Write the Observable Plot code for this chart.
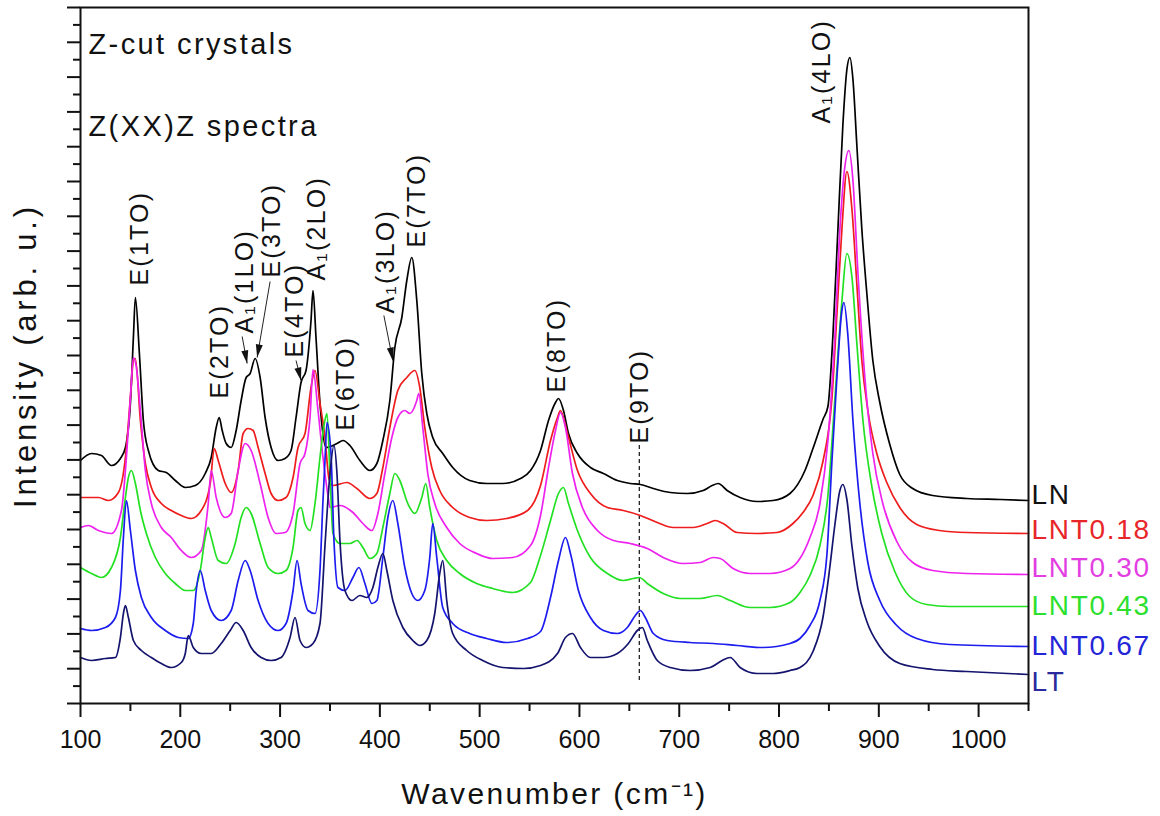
<!DOCTYPE html>
<html>
<head>
<meta charset="utf-8">
<script src="https://cdn.jsdelivr.net/npm/d3@7"></script>
<script src="https://cdn.jsdelivr.net/npm/@observablehq/plot@0.6"></script>
<style>
  body { margin: 0; background: #fff; }
  #chart { width: 1160px; height: 816px; }
</style>
</head>
<body>
<div id="chart"></div>
<script>
// Raman spectra, Z(XX)Z geometry, Z-cut LiNb(1-x)TaxO3 crystals.
// Each series: [wavenumber (cm^-1), intensity (arb. u., vertically offset)]
const LN = [[100,243],[111,250],[121,248],[131,238],[140,245],[145,256],[150,300],[153,366],[155,406],[159,350],[163,283],[168,253],[178,233],[186,231],[195,223],[205,216],[215,218],[225,230],[231,246],[236,276],[239,286],[242,273],[246,260],[251,256],[256,273],[261,303],[266,326],[270,330],[275,345],[280,326],[285,286],[291,256],[298,243],[305,245],[311,253],[316,286],[321,321],[326,333],[331,383],[333,413],[336,366],[340,300],[346,256],[357,260],[363,263],[370,258],[380,243],[390,233],[397,240],[403,263],[410,303],[415,356],[422,386],[427,423],[432,446],[437,403],[442,330],[447,290],[453,266],[463,250],[473,236],[490,223],[507,220],[523,220],[541,225],[551,233],[561,253],[569,283],[576,301],[579,305],[584,293],[589,270],[598,250],[611,236],[624,230],[638,223],[651,220],[661,219],[674,215],[691,211],[708,210],[724,213],[733,218],[739,220],[748,213],[761,206],[778,202],[794,203],[811,210],[826,233],[834,255],[844,284],[849,297],[854,368],[859,474],[864,579],[868,634],[871,646],[874,625],[878,558],[883,474],[888,410],[894,343],[901,301],[911,259],[921,229],[934,215],[954,208],[988,205],[1022,204],[1050,203]];

const LNT018 = [[100,206],[118,206],[128,203],[138,211],[145,246],[150,306],[153,343],[155,345],[160,283],[165,240],[171,216],[181,200],[191,193],[201,188],[211,185],[221,193],[230,220],[234,255],[238,243],[245,220],[251,211],[258,233],[263,270],[268,275],[273,273],[278,256],[285,230],[291,210],[298,203],[306,206],[313,226],[318,256],[325,270],[331,316],[335,333],[340,300],[345,266],[349,225],[353,218],[367,221],[377,215],[390,205],[397,210],[403,236],[410,276],[418,313],[427,326],[435,333],[440,316],[445,276],[452,236],[460,213],[473,196],[490,186],[507,183],[527,185],[548,193],[561,218],[571,263],[578,286],[581,293],[588,270],[598,233],[611,210],[628,196],[644,193],[661,188],[678,181],[694,176],[714,176],[728,180],[736,183],[744,180],[758,171],[778,170],[798,171],[814,180],[824,191],[834,208],[844,242],[853,305],[858,389],[863,474],[868,532],[873,495],[878,419],[883,343],[889,293],[898,250],[908,221],[921,196],[938,179],[961,173],[988,171],[1050,170]];

const LNT030 = [[100,176],[108,178],[118,173],[131,170],[141,193],[146,246],[150,306],[153,346],[156,336],[160,293],[165,233],[171,200],[181,176],[191,166],[201,153],[211,146],[221,153],[228,200],[231,233],[236,206],[245,186],[251,190],[258,233],[265,260],[271,253],[280,220],[288,186],[296,170],[305,171],[313,190],[320,240],[325,250],[330,286],[333,334],[338,293],[343,246],[348,208],[350,196],[360,198],[373,191],[383,180],[392,173],[398,190],[405,230],[412,266],[418,286],[425,293],[430,290],[437,303],[439,310],[443,276],[448,230],[455,200],[467,176],[480,160],[497,150],[513,145],[533,146],[551,158],[561,188],[569,236],[576,273],[581,291],[586,276],[593,230],[603,196],[618,173],[634,163],[651,160],[668,155],[684,146],[704,140],[721,141],[734,146],[741,145],[754,135],[771,130],[791,130],[811,135],[821,145],[831,166],[841,200],[849,263],[856,368],[861,474],[866,537],[870,553],[874,524],[879,432],[886,326],[894,250],[904,200],[918,162],[934,141],[954,133],[988,130],[1050,129]];

const LNT043 = [[100,136],[111,130],[121,126],[131,136],[140,166],[145,206],[148,226],[151,233],[155,220],[160,193],[166,170],[175,146],[185,130],[195,120],[205,113],[213,113],[220,133],[225,166],[228,176],[231,166],[238,143],[246,140],[255,160],[261,186],[266,196],[271,190],[280,160],[288,136],[298,130],[306,133],[313,156],[318,193],[321,196],[325,180],[330,173],[335,200],[340,246],[344,278],[347,290],[350,230],[353,170],[360,160],[370,160],[377,163],[383,156],[390,145],[397,150],[403,176],[410,210],[415,230],[420,223],[428,200],[435,190],[442,206],[446,220],[450,196],[457,163],[467,143],[480,130],[497,120],[513,115],[533,111],[551,121],[561,148],[571,183],[579,210],[584,216],[589,200],[598,173],[611,146],[628,130],[644,123],[654,125],[660,126],[668,120],[684,110],[701,105],[721,105],[738,108],[751,103],[771,96],[791,96],[811,101],[821,111],[831,128],[841,158],[849,208],[856,305],[863,402],[868,450],[873,427],[878,360],[884,284],[893,217],[903,170],[916,132],[931,107],[948,99],[971,97],[1050,97]];

const LNT067 = [[100,75],[111,73],[125,76],[135,86],[140,113],[143,166],[146,203],[150,173],[155,133],[161,106],[171,86],[185,73],[198,66],[208,65],[213,80],[216,113],[220,133],[225,113],[231,93],[241,83],[251,93],[258,123],[265,143],[270,133],[278,103],[288,80],[298,73],[306,80],[313,113],[317,143],[321,120],[328,93],[335,90],[340,133],[343,203],[345,243],[347,281],[351,250],[354,163],[358,116],[365,113],[373,126],[379,136],[385,120],[392,100],[397,103],[403,146],[408,186],[413,203],[418,180],[425,136],[432,110],[438,103],[445,113],[450,146],[453,180],[457,146],[463,96],[473,80],[490,70],[507,65],[527,61],[548,65],[561,72],[571,106],[579,143],[586,166],[591,150],[599,113],[611,86],[624,73],[638,70],[648,76],[656,88],[661,93],[666,86],[674,70],[688,63],[711,61],[734,60],[758,58],[784,56],[811,60],[821,65],[831,78],[841,103],[848,149],[853,242],[858,326],[863,393],[865,401],[869,368],[874,284],[881,200],[889,141],[901,103],[918,78],[938,65],[971,59],[1050,57]];

const LT = [[100,46],[111,43],[125,45],[135,46],[140,66],[143,90],[145,98],[148,86],[153,63],[161,53],[171,46],[181,40],[191,36],[201,41],[205,50],[208,68],[213,56],[221,50],[231,50],[241,60],[250,73],[256,81],[263,73],[271,56],[281,46],[291,43],[301,46],[310,66],[315,86],[320,63],[326,56],[333,60],[340,80],[345,158],[350,230],[354,258],[357,230],[360,163],[365,113],[372,103],[380,108],[387,106],[393,116],[398,136],[403,150],[407,133],[413,103],[423,76],[433,63],[440,58],[447,63],[455,90],[460,130],[463,143],[467,103],[473,70],[487,53],[503,43],[523,36],[544,35],[561,38],[578,50],[586,66],[593,70],[601,56],[611,46],[624,46],[638,50],[649,60],[658,73],[663,76],[668,63],[678,43],[691,36],[711,33],[731,36],[743,43],[751,46],[761,36],[778,30],[794,30],[811,33],[821,36],[834,52],[844,86],[851,137],[856,179],[861,213],[864,219],[868,204],[873,158],[879,115],[888,82],[901,57],[921,40],[954,34],[988,32],[1050,29]];

const seriesData   = [LN, LNT018, LNT030, LNT043, LNT067, LT];
const seriesNames  = ["LN", "LNT0.18", "LNT0.30", "LNT0.43", "LNT0.67", "LT"];
const lineColors   = ["#000000", "#ee1c1c", "#ee22ee", "#22e022", "#1c1cee", "#14146e"];
const labelColors  = ["#111111", "#e8262a", "#e23ee2", "#2ee02e", "#2424d8", "#2a2a9c"];
const labelLevels  = [208, 173, 135, 97, 57, 21];

// Phonon mode assignments (rotated labels): position of the label's lower end
const modeNames = ["E(1TO)", "E(2TO)", "A\u2081(1LO)", "E(3TO)", "E(4TO)", "A\u2081(2LO)", "E(6TO)", "A\u2081(3LO)", "E(7TO)", "E(8TO)", "E(9TO)", "A\u2081(4LO)"];
const modeX     = [160, 240, 265, 292, 315, 337, 366, 406, 437, 578, 661, 843];
const modeY     = [418, 305, 370, 426, 346, 423, 273, 390, 456, 311, 260, 580];

// Pointer arrows from a label to its band
const arrowX1 = [262, 290, 316, 404];
const arrowY1 = [367, 422, 343, 388];
const arrowX2 = [267, 277, 321, 413];
const arrowY2 = [340, 346, 323, 343];

// E(9TO) position marker
const e9Position = 660;
const e9Span = [23, 258];

const xMajorTicks = d3.range(100, 1001, 100);
const xMinorTicks = d3.range(150, 1051, 100);
const yStep = 17.4;
const yTicks = d3.range(0, 41).map(i => i * yStep);
const yMajorTicks = yTicks.filter((_, i) => i % 2 === 0);
const yMinorTicks = yTicks.filter((_, i) => i % 2 === 1);

const titleLines = ["Z-cut crystals", "Z(XX)Z spectra"];
const xTitle = "Wavenumber (cm\u207B\u00B9)";
const yTitle = "Intensity (arb. u.)";

const font = "Arial, 'Liberation Sans', Helvetica, sans-serif";

// narrow filled arrowhead with its tip at the origin, pointing up before rotation
const arrowHead = {
  draw(context) {
    context.moveTo(0, 0);
    context.lineTo(-3.5, 13);
    context.lineTo(3.5, 13);
    context.closePath();
  }
};

const arrows = arrowX1.map((x1, i) => ({
  x1, y1: arrowY1[i], x2: arrowX2[i], y2: arrowY2[i],
  angle: Math.atan2(arrowX2[i] - x1, arrowY2[i] - arrowY1[i]) * 180 / Math.PI
}));

const lineMarks = seriesData.map((pts, i) =>
  Plot.line(pts, {x: d => d[0], y: d => d[1], stroke: lineColors[i], strokeWidth: 1.7, curve: "monotone-x"})
);

const legendMarks = seriesNames.map((name, i) =>
  Plot.text([name], {
    x: 1050, y: labelLevels[i], text: d => d, textAnchor: "start", dx: 3,
    fill: labelColors[i], fontSize: 28
  })
);

const chart = Plot.plot({
  width: 1160,
  height: 816,
  marginLeft: 80,
  marginRight: 132,
  marginTop: 7,
  marginBottom: 113,
  style: {fontFamily: font, background: "white", color: "#111"},
  x: {domain: [100, 1050]},
  y: {domain: [0, 696]},
  marks: [
    Plot.axisX({ticks: xMajorTicks, tickSize: 14, tickPadding: 13, fontSize: 25, strokeWidth: 2, tickFormat: d => String(d), label: null}),
    Plot.axisX({ticks: xMinorTicks, tickSize: 8, tickFormat: () => "", strokeWidth: 2, label: null}),
    Plot.axisY({ticks: yMajorTicks, tickSize: 13, tickFormat: () => "", strokeWidth: 2, label: null}),
    Plot.axisY({ticks: yMinorTicks, tickSize: 7, tickFormat: () => "", strokeWidth: 2, label: null}),
    Plot.ruleX([e9Position], {y1: e9Span[0], y2: e9Span[1], stroke: "#222", strokeWidth: 1.3, strokeDasharray: "4,3"}),
    ...lineMarks,
    Plot.link(arrows, {x1: "x1", y1: "y1", x2: "x2", y2: "y2", stroke: "#222", strokeWidth: 1}),
    Plot.dot(arrows, {x: "x2", y: "y2", symbol: arrowHead, rotate: "angle", fill: "#111", stroke: "none"}),
    Plot.text(modeNames, {
      x: (d, i) => modeX[i], y: (d, i) => modeY[i], text: d => d,
      rotate: -90, textAnchor: "start", fontSize: 25, fill: "#111"
    }),
    ...legendMarks,
    Plot.text([titleLines[0]], {
      frameAnchor: "top-left", text: d => d, dx: 8, dy: 26, lineAnchor: "top", textAnchor: "start",
      fontSize: 29, fill: "#111"
    }),
    Plot.text([titleLines[1]], {
      frameAnchor: "top-left", text: d => d, dx: 8, dy: 108, lineAnchor: "top", textAnchor: "start",
      fontSize: 29, fill: "#111"
    }),
    Plot.text([xTitle], {
      frameAnchor: "bottom", text: d => d, dy: 100, lineAnchor: "bottom",
      fontSize: 30, fill: "#111"
    }),
    // axis title sits left of the frame, centred on it
    Plot.text([yTitle], {
      x: 45, y: 348, text: d => d, rotate: -90,
      fontSize: 31, fill: "#111"
    }),
    Plot.frame({stroke: "#111", strokeWidth: 2})
  ]
});

// the figure's lettering is set slightly loose
const spacing = new Map([
  [titleLines[0], 2.4], [titleLines[1], 2.4],
  [xTitle, 2.4], [yTitle, 3.8],
  ...seriesNames.map(n => [n, 1.7]),
  ...modeNames.map(n => [n, 2.2])
]);
d3.select(chart).selectAll("text").each(function () {
  const s = spacing.get(this.textContent);
  if (s !== undefined) this.style.letterSpacing = s + "px";
});

document.getElementById("chart").appendChild(chart);
</script>
</body>
</html>
